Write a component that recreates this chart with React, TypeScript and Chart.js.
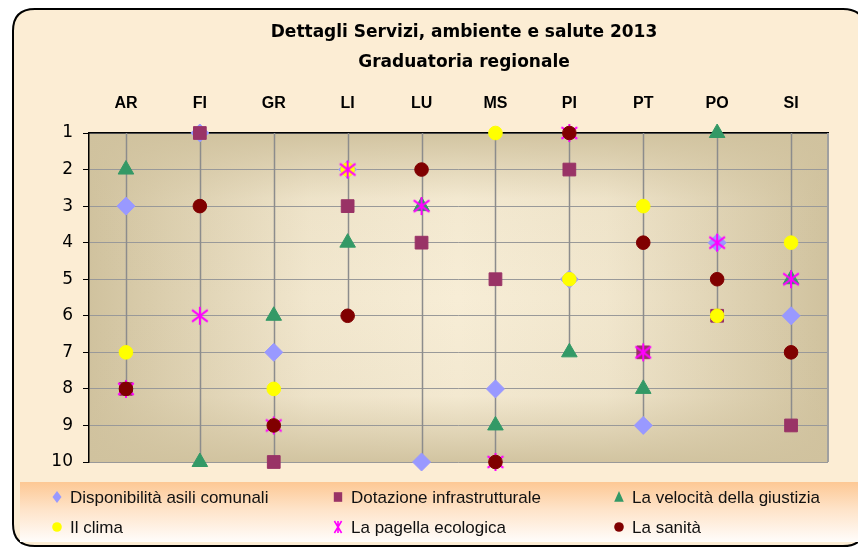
import React, { useEffect, useRef } from "react";
import { Chart, registerables } from "chart.js";

Chart.register(...registerables);

const categories = ["AR", "FI", "GR", "LI", "LU", "MS", "PI", "PT", "PO", "SI"];
const asili = [3, 1, 7, 2, 10, 8, 5, 9, 4, 6];
const dotazione = [8, 1, 10, 3, 4, 5, 2, 7, 6, 9];
const giustizia = [2, 10, 6, 4, 3, 9, 7, 8, 1, 5];
const clima = [7, null, 8, 2, null, 1, 5, 3, 6, 4];
const pagella = [8, 6, 9, 2, 3, 10, 1, 7, 4, 5];
const sanita = [8, 3, 9, 6, 2, 10, 1, 4, 5, 7];
const yTicks = [1, 2, 3, 4, 5, 6, 7, 8, 9, 10];
const seriesLabels = [
  "Disponibilità asili comunali",
  "Dotazione infrastrutturale",
  "La velocità della giustizia",
  "Il clima",
  "La pagella ecologica",
  "La sanità",
];
const titleLines = ["Dettagli Servizi, ambiente e salute 2013", "Graduatoria regionale"];

const colors = ["#9999FF", "#993366", "#339966", "#FFFF00", "#FF00FF", "#800000"];
const styles = ["rectRot", "rect", "triangle", "circle", "asterisk", "circle"];

function makeAsterisk(size: number, lw: number, color: string) {
  const c = document.createElement("canvas");
  c.width = size;
  c.height = size;
  const g = c.getContext("2d")!;
  g.strokeStyle = color;
  g.lineWidth = lw;
  const h = size / 2;
  const r = h - 1;
  g.beginPath();
  g.moveTo(h, h - r);
  g.lineTo(h, h + r);
  const d = r * 0.87;
  g.moveTo(h - d, h - d * 0.75);
  g.lineTo(h + d, h + d * 0.75);
  g.moveTo(h + d, h - d * 0.75);
  g.lineTo(h - d, h + d * 0.75);
  g.stroke();
  return c;
}

function drawMarker(ctx: CanvasRenderingContext2D, style: string, x: number, y: number, s: number, color: string) {
  ctx.save();
  ctx.fillStyle = color;
  ctx.strokeStyle = color;
  ctx.beginPath();
  if (style === "rectRot") {
    ctx.moveTo(x, y - s);
    ctx.lineTo(x + s * 0.75, y);
    ctx.lineTo(x, y + s);
    ctx.lineTo(x - s * 0.75, y);
    ctx.closePath();
    ctx.fill();
  } else if (style === "rect") {
    ctx.rect(x - s * 0.7, y - s * 0.8, s * 1.4, s * 1.6);
    ctx.fill();
  } else if (style === "triangle") {
    ctx.moveTo(x, y - s);
    ctx.lineTo(x + s * 0.8, y + s * 0.8);
    ctx.lineTo(x - s * 0.8, y + s * 0.8);
    ctx.closePath();
    ctx.fill();
  } else if (style === "circle") {
    ctx.arc(x, y, s * 0.8, 0, Math.PI * 2);
    ctx.fill();
  } else if (style === "asterisk") {
    ctx.lineWidth = 1.6;
    ctx.moveTo(x - s * 0.6, y - s);
    ctx.lineTo(x + s * 0.6, y + s);
    ctx.moveTo(x + s * 0.6, y - s);
    ctx.lineTo(x - s * 0.6, y + s);
    ctx.moveTo(x, y - s);
    ctx.lineTo(x, y + s);
    ctx.stroke();
  }
  ctx.restore();
}

function roundRect(ctx: CanvasRenderingContext2D, x: number, y: number, w: number, h: number, r: number) {
  ctx.beginPath();
  ctx.moveTo(x + r, y);
  ctx.lineTo(x + w - r, y);
  ctx.quadraticCurveTo(x + w, y, x + w, y + r);
  ctx.lineTo(x + w, y + h - r);
  ctx.quadraticCurveTo(x + w, y + h, x + w - r, y + h);
  ctx.lineTo(x + r, y + h);
  ctx.quadraticCurveTo(x, y + h, x, y + h - r);
  ctx.lineTo(x, y + r);
  ctx.quadraticCurveTo(x, y, x + r, y);
  ctx.closePath();
}

const backgroundPlugin = {
  id: "bgframe",
  beforeDraw(chart: any) {
    const ctx: CanvasRenderingContext2D = chart.ctx;
    const W = chart.width;
    const H = chart.height;
    const ca = chart.chartArea;
    ctx.save();
    ctx.fillStyle = "#FFFFFF";
    ctx.fillRect(0, 0, W, H);
    roundRect(ctx, 13, 9, 852, 537, 22);
    ctx.fillStyle = "#FCEDD4";
    ctx.fill();
    ctx.lineWidth = 2;
    ctx.strokeStyle = "#000000";
    ctx.stroke();

    // legend band
    const lg = ctx.createLinearGradient(0, 482, 0, 542);
    lg.addColorStop(0, "#FDC894");
    lg.addColorStop(0.45, "#FEE3C8");
    lg.addColorStop(1, "#FFFDFB");
    ctx.fillStyle = lg;
    ctx.fillRect(20, 482, W - 20, 60);

    // title
    ctx.fillStyle = "#000000";
    ctx.textAlign = "center";
    ctx.textBaseline = "middle";
    ctx.font = "bold 17px 'DejaVu Sans'";
    ctx.fillText(titleLines[0], 464, 33);
    ctx.fillText(titleLines[1], 464, 63);

    // plot background
    const { left, top, right, bottom } = ca;
    const w = right - left;
    const h = bottom - top;
    ctx.fillStyle = "#F7EDD6";
    ctx.fillRect(left, top, w, h);
    const hg = ctx.createLinearGradient(left, 0, right, 0);
    hg.addColorStop(0, "rgba(208,194,158,1)");
    hg.addColorStop(0.3, "rgba(208,194,158,0.15)");
    hg.addColorStop(0.5, "rgba(208,194,158,0)");
    hg.addColorStop(0.7, "rgba(208,194,158,0.15)");
    hg.addColorStop(1, "rgba(208,194,158,1)");
    ctx.fillStyle = hg;
    ctx.fillRect(left, top, w, h);
    const vg = ctx.createLinearGradient(0, top, 0, bottom);
    vg.addColorStop(0, "rgba(208,194,158,0.95)");
    vg.addColorStop(0.2, "rgba(208,194,158,0.1)");
    vg.addColorStop(0.5, "rgba(208,194,158,0)");
    vg.addColorStop(0.8, "rgba(208,194,158,0.1)");
    vg.addColorStop(1, "rgba(208,194,158,0.95)");
    ctx.fillStyle = vg;
    ctx.fillRect(left, top, w, h);
    ctx.restore();
  },
  beforeDatasetsDraw(chart: any) {
    const ctx: CanvasRenderingContext2D = chart.ctx;
    const ca = chart.chartArea;
    const xs = chart.scales.x;
    const ys = chart.scales.y;
    ctx.save();
    // right border
    ctx.strokeStyle = "#A0A0A0";
    ctx.lineWidth = 2;
    ctx.beginPath();
    ctx.moveTo(ca.right, ca.top);
    ctx.lineTo(ca.right, ca.bottom);
    ctx.stroke();
    // drop lines
    ctx.strokeStyle = "#8C8C8C";
    ctx.lineWidth = 1.5;
    categories.forEach((_, i) => {
      let mx = -Infinity;
      chart.data.datasets.forEach((ds: any) => {
        const v = ds.data[i];
        if (v !== null && v !== undefined && v > mx) mx = v;
      });
      if (mx === -Infinity) return;
      const x = Math.round(xs.getPixelForValue(i)) + 0.5;
      ctx.beginPath();
      ctx.moveTo(x, ca.top);
      ctx.lineTo(x, ys.getPixelForValue(mx));
      ctx.stroke();
    });
    ctx.restore();
  },
  afterDraw(chart: any) {
    const ctx: CanvasRenderingContext2D = chart.ctx;
    ctx.save();
    ctx.font = "17px 'Liberation Sans'";
    ctx.textBaseline = "middle";
    ctx.textAlign = "left";
    ctx.fillStyle = "#111111";
    const colX = [57, 338, 619];
    const rowY = [497, 527];
    seriesLabels.forEach((lab, i) => {
      const cx = colX[i % 3];
      const cy = rowY[Math.floor(i / 3)];
      drawMarker(ctx, styles[i], cx, cy, 6, colors[i]);
      ctx.fillStyle = "#111111";
      ctx.fillText(lab, cx + 13, cy + 1);
    });
    ctx.restore();
  },
};

export default function App() {
  const ref = useRef<HTMLCanvasElement | null>(null);
  useEffect(() => {
    document.body.style.margin = "0";
    const canvas = ref.current!;
    const star = makeAsterisk(20, 2, "#FF00FF");
    const series = [asili, dotazione, giustizia, clima, pagella, sanita];
    const radii = [9, 9, 9, 6.8, 9, 6.8];
    const datasets = series.map((d, i) => ({
      label: seriesLabels[i],
      data: d,
      order: series.length - 1 - i,
      clip: false,
      showLine: false,
      pointStyle: styles[i] === "asterisk" ? star : styles[i],
      pointRadius: radii[i],
      pointHoverRadius: radii[i],
      pointBackgroundColor: colors[i],
      pointBorderColor: colors[i],
      pointBorderWidth: 1,
      backgroundColor: colors[i],
      borderColor: colors[i],
    }));
    const chart = new Chart(canvas, {
      type: "line",
      data: { labels: categories, datasets: datasets as any },
      plugins: [backgroundPlugin as any],
      options: {
        animation: false,
        responsive: false,
        devicePixelRatio: 1,
        layout: { padding: { left: 0, top: 0, right: 30, bottom: 86 } },
        plugins: { legend: { display: false }, title: { display: false }, tooltip: { enabled: false } },
        elements: { point: { hitRadius: 0 } },
        scales: {
          x: {
            type: "category",
            position: "top",
            offset: true,
            grid: { display: false, drawTicks: false },
            border: { display: true, color: "#000000", width: 1.5 },
            ticks: {
              padding: 20,
              color: "#000000",
              font: { family: "'Liberation Sans'", size: 16, weight: "bold" },
            },
            afterFit: (s: any) => {
              s.height = 133;
            },
          },
          y: {
            type: "linear",
            reverse: true,
            min: 1,
            max: 10,
            afterBuildTicks: (s: any) => {
              s.ticks = yTicks.map((v) => ({ value: v }));
            },
            grid: { color: "#999999", lineWidth: 1, tickLength: 6, tickColor: "#000000" },
            border: { display: true, color: "#000000", width: 1.5 },
            ticks: {
              padding: 10,
              color: "#000000",
              font: { family: "'DejaVu Sans'", size: 17 },
            },
            afterFit: (s: any) => {
              s.width = 89;
            },
          },
        },
      },
    });
    return () => chart.destroy();
  }, []);
  return (
    <div style={{ position: "fixed", left: 0, top: 0, width: 858, height: 548 }}>
      <canvas ref={ref} width={858} height={548} style={{ display: "block" }} />
    </div>
  );
}
